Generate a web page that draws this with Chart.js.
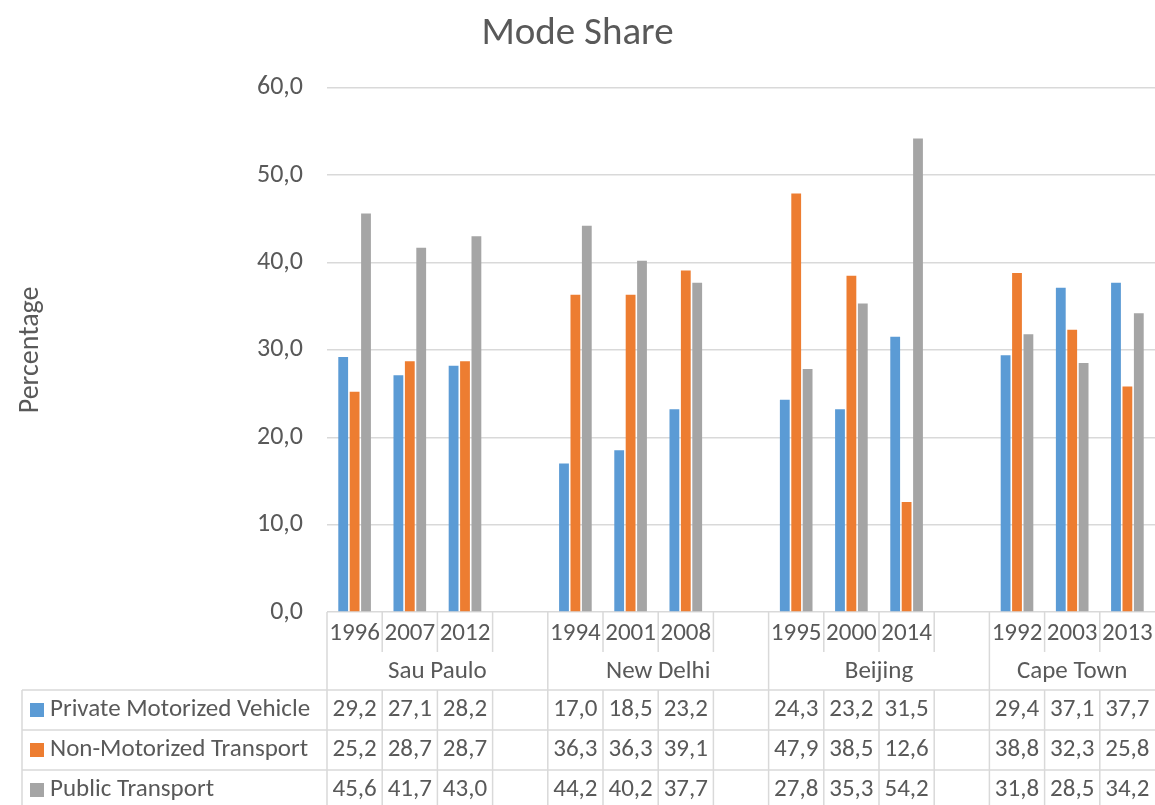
<!DOCTYPE html>
<html>
<head>
<meta charset="utf-8">
<script src="https://cdn.jsdelivr.net/npm/chart.js@4/dist/chart.umd.min.js"></script>
<style>
    html, body { margin: 0; padding: 0; background: #ffffff; }
    #wrap { width: 1155px; height: 805px; }
</style>
</head>
<body>
<div id="wrap"><canvas id="modeShare" width="1155" height="805"></canvas></div>
<script>
/* Mode share chart with Excel-style data table */

// Columns (blank entries are the spacer columns between cities)
const years = ['1996', '2007', '2012', '', '1994', '2001', '2008', '', '1995', '2000', '2014', '', '1992', '2003', '2013'];
const cities = ['Sau Paulo', 'New Delhi', 'Beijing', 'Cape Town'];
const cityColumns = [[0, 3], [4, 7], [8, 11], [12, 14]];

const seriesNames = ['Private Motorized Vehicle', 'Non-Motorized Transport', 'Public Transport'];
const privateMotorized = [29.2, 27.1, 28.2, null, 17.0, 18.5, 23.2, null, 24.3, 23.2, 31.5, null, 29.4, 37.1, 37.7];
const nonMotorized = [25.2, 28.7, 28.7, null, 36.3, 36.3, 39.1, null, 47.9, 38.5, 12.6, null, 38.8, 32.3, 25.8];
const publicTransport = [45.6, 41.7, 43.0, null, 44.2, 40.2, 37.7, null, 27.8, 35.3, 54.2, null, 31.8, 28.5, 34.2];

const yTicks = [0, 10, 20, 30, 40, 50, 60];

const SeriesColors = ['#5B9BD5', '#ED7D31', '#A5A5A5'];
const TextColor = '#595959';
const LineColor = '#d9d9d9';
const FontFamily = "Carlito, 'Open Sans', sans-serif";

function fmt(v) {
    return v.toFixed(1).replace('.', ',');
}

// Draws the year row, city row and the value table under the plot
const dataTable = {
    id: 'dataTable',
    afterDraw: function (chart) {
        const ctx = chart.ctx;
        const x = chart.scales.x;
        const area = chart.chartArea;
        const colW = x.getPixelForValue(1) - x.getPixelForValue(0);
        const edge = (i) => x.getPixelForValue(i) - colW / 2;
        const top = area.bottom;
        const yearBottom = top + 40;
        const tableTop = top + 78;
        const rowH = 40;
        const bottom = chart.height;
        const tableLeft = 22;
        const series = [privateMotorized, nonMotorized, publicTransport];

        ctx.save();
        ctx.strokeStyle = LineColor;
        ctx.lineWidth = 1.5;
        const line = (x1, y1, x2, y2) => {
            ctx.beginPath();
            ctx.moveTo(x1, y1);
            ctx.lineTo(x2, y2);
            ctx.stroke();
        };

        // left edges
        line(area.left, top, area.left, bottom);
        line(tableLeft, tableTop, tableLeft, bottom);
        // horizontal table lines
        for (let r = 0; r < 3; r++) {
            line(tableLeft, tableTop + r * rowH, area.right, tableTop + r * rowH);
        }
        // column separators
        for (let i = 1; i < years.length; i++) {
            const px = edge(i);
            const isGroup = cityColumns.some(c => c[0] == i);
            if (isGroup) {
                line(px, top, px, bottom);
            } else {
                line(px, top, px, yearBottom);
                line(px, tableTop, px, bottom);
            }
        }

        ctx.fillStyle = TextColor;
        ctx.font = '25px ' + FontFamily;
        ctx.textAlign = 'center';
        ctx.textBaseline = 'middle';

        // years
        for (let i = 0; i < years.length; i++) {
            ctx.fillText(years[i], x.getPixelForValue(i), top + 22);
        }
        // cities
        for (let c = 0; c < cities.length; c++) {
            const l = edge(cityColumns[c][0]);
            const r = cityColumns[c][1] == years.length - 1 ? area.right : edge(cityColumns[c][1] + 1);
            ctx.fillText(cities[c], (l + r) / 2, top + 60);
        }
        // rows
        for (let s = 0; s < series.length; s++) {
            const cy = tableTop + s * rowH + rowH / 2;
            for (let i = 0; i < years.length; i++) {
                if (series[s][i] != null) {
                    ctx.fillText(fmt(series[s][i]), x.getPixelForValue(i), cy);
                }
            }
            ctx.fillStyle = SeriesColors[s];
            ctx.fillRect(30, cy - 7, 14, 14);
            ctx.fillStyle = TextColor;
            ctx.textAlign = 'left';
            ctx.fillText(seriesNames[s], 50, cy);
            ctx.textAlign = 'center';
        }
        ctx.restore();
    }
};

const ctx = document.getElementById('modeShare').getContext('2d');
const chart = new Chart(ctx, {
    type: 'bar',
    data: {
        labels: years,
        datasets: [
            { label: seriesNames[0], data: privateMotorized, backgroundColor: SeriesColors[0] },
            { label: seriesNames[1], data: nonMotorized, backgroundColor: SeriesColors[1] },
            { label: seriesNames[2], data: publicTransport, backgroundColor: SeriesColors[2] }
        ]
    },
    options: {
        responsive: false,
        animation: false,
        layout: {
            padding: { top: 0, right: 0, bottom: 185, left: 0 }
        },
        datasets: {
            bar: {
                categoryPercentage: 0.62,
                barPercentage: 0.86,
                borderWidth: 0
            }
        },
        plugins: {
            legend: { display: false },
            tooltip: { enabled: false },
            title: {
                display: true,
                text: 'Mode Share',
                color: TextColor,
                font: { family: FontFamily, size: 39, weight: 'normal' },
                padding: { top: 11, bottom: 30 }
            }
        },
        scales: {
            x: {
                ticks: { display: false },
                grid: { display: false },
                border: { display: false }
            },
            y: {
                min: 0,
                max: 60,
                afterBuildTicks: function (scale) {
                    scale.ticks = yTicks.map(v => ({ value: v }));
                },
                afterFit: function (scale) {
                    scale.width = 327;
                },
                ticks: {
                    color: TextColor,
                    padding: 24,
                    font: { family: FontFamily, size: 26 },
                    callback: (v) => fmt(v)
                },
                grid: {
                    color: LineColor,
                    lineWidth: 1.5,
                    drawTicks: false
                },
                border: { display: false },
                title: {
                    display: true,
                    text: 'Percentage',
                    color: TextColor,
                    font: { family: FontFamily, size: 28 },
                    padding: { top: 14, bottom: 0 }
                }
            }
        }
    },
    plugins: [dataTable]
});
</script>
</body>
</html>
